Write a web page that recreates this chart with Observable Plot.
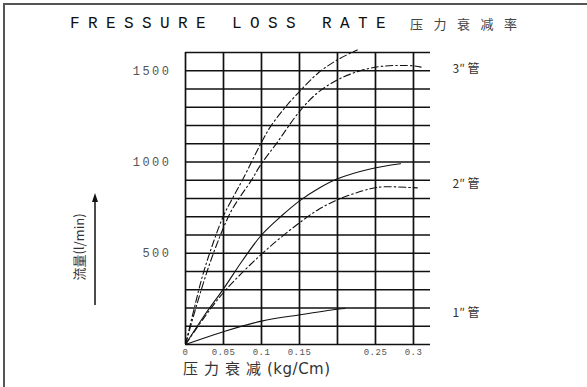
<!DOCTYPE html>
<html><head><meta charset="utf-8">
<script src="https://cdn.jsdelivr.net/npm/d3@7"></script>
<script src="https://cdn.jsdelivr.net/npm/@observablehq/plot@0.6"></script>
<style>
body{margin:0;background:#fff;}
#wrap{position:relative;width:587px;height:387px;overflow:hidden;background:#fff;}
#frame{position:absolute;left:3px;top:3px;width:620px;height:420px;border:2px solid #555;box-sizing:border-box;}
#chart{position:absolute;left:0;top:0;}
.t{position:absolute;white-space:nowrap;color:#222;}
#title{left:70px;top:14px;font:16px "Liberation Mono",monospace;letter-spacing:8.4px;color:#111;line-height:20px;}
#titlecn{left:410px;top:15px;font:13px "Noto Sans CJK SC";letter-spacing:10.5px;color:#444;line-height:18px;}
#ytitle{left:22px;top:239px;width:110px;height:16px;line-height:16px;text-align:center;font:13px "Noto Sans CJK SC";transform:rotate(-90deg);color:#333;}
#xtitle{left:183px;top:358px;font:15px "Noto Sans CJK SC";letter-spacing:6px;color:#333;line-height:20px;}
#xtitle span{font:15px "DejaVu Sans";letter-spacing:0.5px;}
#chart svg g[aria-label="x-axis tick label"] text{font:9px "Liberation Mono",monospace;fill:#555;letter-spacing:0.5px;}
#chart svg g[aria-label="y-axis tick label"] text{font:12px "Liberation Mono",monospace;fill:#555;letter-spacing:2.5px;}
</style></head>
<body>
<div id="wrap">
  <div id="frame"></div>
  <div id="chart"></div>
  <div class="t" id="title">FRESSURE LOSS RATE</div>
  <div class="t" id="titlecn">压力衰减率</div>
  <div class="t" id="ytitle">流量(l/min)</div>
  <div class="t" id="xtitle">压力衰减<span>(kg/Cm)</span></div>
  <svg id="arrow" width="587" height="387" style="position:absolute;left:0;top:0;pointer-events:none">
    <line x1="95" y1="305" x2="95" y2="200" stroke="#111" stroke-width="1.5"/>
    <path d="M95,193 L92,202 L98,202 Z" fill="#111"/>
  </svg>
</div>
<script>
// tick / grid values
const xGrid = [0, 0.05, 0.1, 0.15, 0.2, 0.25, 0.3];
const xTicks = [0, 0.05, 0.1, 0.15, 0.25, 0.3];
const yGrid = d3.range(0, 1601, 100);
const yTicks = [500, 1000, 1500];

// 3" pipe, upper dash-dot curve
const pipe3a = [[0,0],[0.011,190],[0.022,370],[0.035,540],[0.05,705],[0.063,810],[0.076,910],[0.099,1100],[0.112,1195],[0.129,1288],[0.145,1364],[0.175,1489],[0.2,1560],[0.226,1614]];
// 3" pipe, lower dash-dot curve
const pipe3b = [[0,0],[0.015,220],[0.03,420],[0.046,600],[0.06,730],[0.072,810],[0.086,895],[0.099,985],[0.121,1109],[0.151,1282],[0.174,1380],[0.2,1450],[0.23,1500],[0.26,1525],[0.3,1527],[0.31,1520]];
// 2" pipe, solid curve
const pipe2a = [[0,0],[0.025,160],[0.05,305],[0.075,460],[0.1,600],[0.125,700],[0.151,790],[0.175,855],[0.2,908],[0.243,962],[0.283,990]];
// 2" pipe, dash-dot curve
const pipe2b = [[0,0],[0.025,150],[0.05,285],[0.075,395],[0.1,495],[0.125,585],[0.151,670],[0.175,740],[0.204,800],[0.243,853],[0.26,864],[0.305,858]];
// 1" pipe, solid curve
const pipe1 = [[0,0],[0.05,70],[0.1,128],[0.151,163],[0.2,193],[0.21,197]];

const labelText = ["3″ 管", "2″ 管", "1″ 管"];
const labelY = [1510, 880, 170];
const labels = labelText.map((t, i) => ({t, v: labelY[i]}));

const dashDot = "7,3,1.5,3";
const plot = Plot.plot({
  width: 587, height: 387,
  marginLeft: 185, marginRight: 157, marginTop: 52, marginBottom: 43,
  x: {domain: [0, 0.3224], ticks: xTicks, tickSize: 0, tickPadding: 4, label: null,
      tickFormat: d => d === 0 ? "0" : String(d)},
  y: {domain: [0, 1600], ticks: yTicks, tickSize: 0, tickPadding: 14, label: null,
      tickFormat: d => String(d)},
  style: {background: "transparent", overflow: "visible"},
  marks: [
    Plot.ruleX(xGrid, {stroke: "#111", strokeWidth: 1.7}),
    Plot.ruleY(yGrid, {stroke: "#111", strokeWidth: 1.7}),
    Plot.line(pipe3a, {x: d => d[0], y: d => d[1], curve: "catmull-rom", stroke: "#111", strokeWidth: 1.1, strokeDasharray: dashDot}),
    Plot.line(pipe3b, {x: d => d[0], y: d => d[1], curve: "catmull-rom", stroke: "#111", strokeWidth: 1.1, strokeDasharray: dashDot}),
    Plot.line(pipe2a, {x: d => d[0], y: d => d[1], curve: "catmull-rom", stroke: "#111", strokeWidth: 1.1}),
    Plot.line(pipe2b, {x: d => d[0], y: d => d[1], curve: "catmull-rom", stroke: "#111", strokeWidth: 1.1, strokeDasharray: dashDot}),
    Plot.line(pipe1, {x: d => d[0], y: d => d[1], curve: "catmull-rom", stroke: "#111", strokeWidth: 1.1}),
    Plot.text(labels, {y: "v", text: "t", frameAnchor: "right", textAnchor: "start", dx: 22,
      fontSize: 12, fontFamily: "Noto Sans CJK SC", fill: "#333"})
  ]
});
document.getElementById("chart").appendChild(plot);
</script>
</body></html>
